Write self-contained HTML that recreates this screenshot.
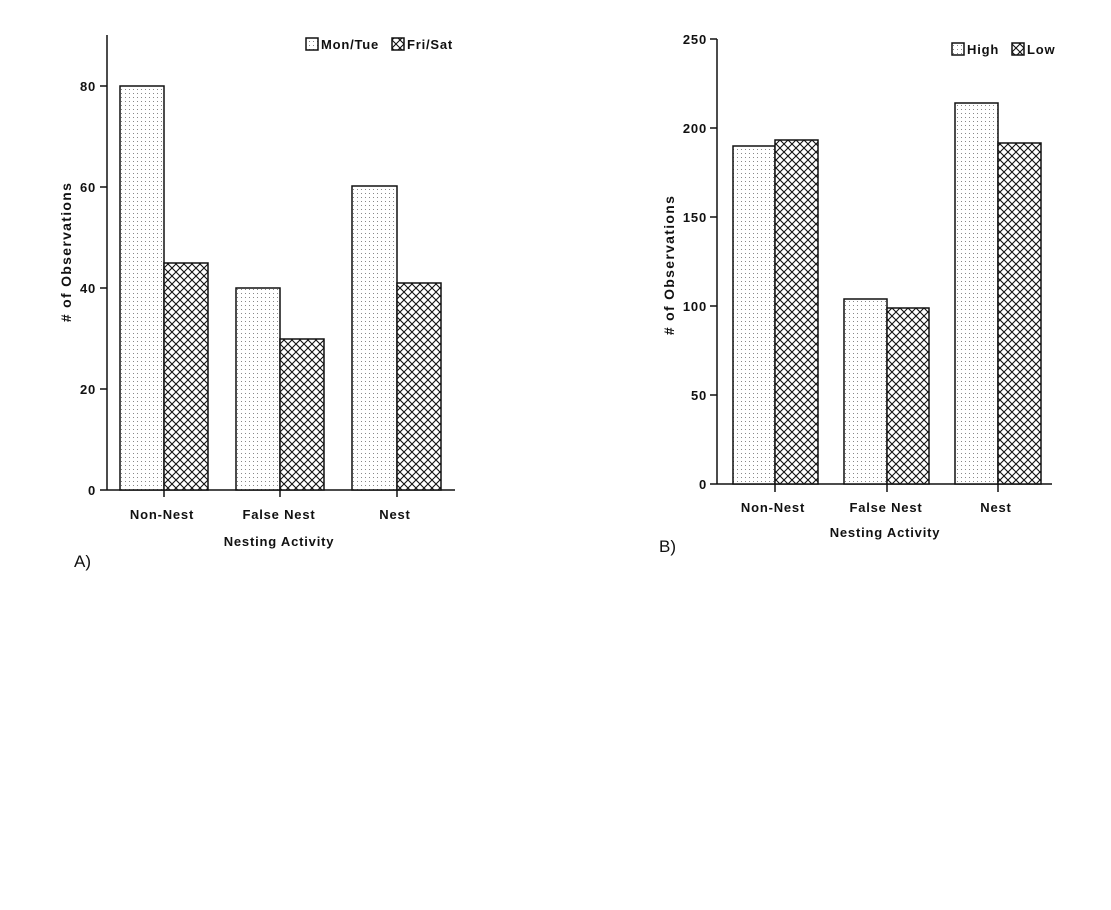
<!DOCTYPE html>
<html><head><meta charset="utf-8"><style>
html,body{margin:0;padding:0;background:#fff;}
svg{display:block;}
text{font-family:"Liberation Sans",Arial,sans-serif;fill:#111;}
.b{font-weight:bold;font-size:13px;letter-spacing:0.8px;}
.t{font-weight:bold;font-size:14px;letter-spacing:1.3px;}
</style></head><body>
<svg width="1111" height="910" viewBox="0 0 1111 910" xmlns="http://www.w3.org/2000/svg">
<defs>
<pattern id="dots" width="4" height="4" patternUnits="userSpaceOnUse">
<rect width="4" height="4" fill="#fff"/><rect x="1" y="1" width="1" height="1" fill="#888"/>
</pattern>
<pattern id="hatch" width="8" height="8" patternUnits="userSpaceOnUse">
<rect width="8" height="8" fill="#fff"/>
<path d="M0,0 L8,8 M8,0 L0,8 M-1,7 L1,9 M7,-1 L9,1 M-1,1 L1,-1 M7,9 L9,7" stroke="#111" stroke-width="1.1"/>
</pattern>
</defs>
<g stroke="#111" stroke-width="1.5" fill="none">
<line x1="107" y1="35" x2="107" y2="490"/>
<line x1="107" y1="490" x2="455" y2="490"/>
<line x1="100" y1="490" x2="107" y2="490"/>
<line x1="100" y1="389" x2="107" y2="389"/>
<line x1="100" y1="288" x2="107" y2="288"/>
<line x1="100" y1="187" x2="107" y2="187"/>
<line x1="100" y1="86" x2="107" y2="86"/>
<line x1="164" y1="490" x2="164" y2="497"/>
<line x1="280" y1="490" x2="280" y2="497"/>
<line x1="397" y1="490" x2="397" y2="497"/>
<line x1="717" y1="39" x2="717" y2="484"/>
<line x1="717" y1="484" x2="1052" y2="484"/>
<line x1="710" y1="484" x2="717" y2="484"/>
<line x1="710" y1="395" x2="717" y2="395"/>
<line x1="710" y1="306" x2="717" y2="306"/>
<line x1="710" y1="217" x2="717" y2="217"/>
<line x1="710" y1="128" x2="717" y2="128"/>
<line x1="710" y1="39" x2="717" y2="39"/>
<line x1="775" y1="484" x2="775" y2="492"/>
<line x1="887" y1="484" x2="887" y2="492"/>
<line x1="998" y1="484" x2="998" y2="492"/>
</g>
<g stroke="#111" stroke-width="1.5">
<rect x="120" y="86" width="44" height="404" fill="url(#dots)"/>
<rect x="164" y="263" width="44" height="227" fill="url(#hatch)"/>
<rect x="236" y="288" width="44" height="202" fill="url(#dots)"/>
<rect x="280" y="339" width="44" height="151" fill="url(#hatch)"/>
<rect x="352" y="186" width="45" height="304" fill="url(#dots)"/>
<rect x="397" y="283" width="44" height="207" fill="url(#hatch)"/>
<rect x="733" y="146" width="42" height="338" fill="url(#dots)"/>
<rect x="775" y="140" width="43" height="344" fill="url(#hatch)"/>
<rect x="844" y="299" width="43" height="185" fill="url(#dots)"/>
<rect x="887" y="308" width="42" height="176" fill="url(#hatch)"/>
<rect x="955" y="103" width="43" height="381" fill="url(#dots)"/>
<rect x="998" y="143" width="43" height="341" fill="url(#hatch)"/>
<rect x="306" y="38" width="12" height="12" fill="url(#dots)"/>
<rect x="392" y="38" width="12" height="12" fill="url(#hatch)"/>
<rect x="952" y="43" width="12" height="12" fill="url(#dots)"/>
<rect x="1012" y="43" width="12" height="12" fill="url(#hatch)"/>
</g>
<text x="321" y="49" class="b">Mon/Tue</text>
<text x="407" y="49" class="b">Fri/Sat</text>
<text x="967" y="54" class="b">High</text>
<text x="1027" y="54" class="b">Low</text>
<g text-anchor="end">
<text x="96" y="495" class="b">0</text>
<text x="96" y="394" class="b">20</text>
<text x="96" y="293" class="b">40</text>
<text x="96" y="192" class="b">60</text>
<text x="96" y="91" class="b">80</text>
<text x="707" y="489" class="b">0</text>
<text x="707" y="400" class="b">50</text>
<text x="707" y="311" class="b">100</text>
<text x="707" y="222" class="b">150</text>
<text x="707" y="133" class="b">200</text>
<text x="707" y="44" class="b">250</text>
</g>
<g text-anchor="middle">
<text x="162" y="519" class="b">Non-Nest</text>
<text x="279" y="519" class="b">False Nest</text>
<text x="395" y="519" class="b">Nest</text>
<text x="279" y="546" class="b">Nesting Activity</text>
<text x="773" y="512" class="b">Non-Nest</text>
<text x="886" y="512" class="b">False Nest</text>
<text x="996" y="512" class="b">Nest</text>
<text x="885" y="537" class="b">Nesting Activity</text>
<text transform="translate(71,252) rotate(-90)" class="t">&#35; of Observations</text>
<text transform="translate(674,265) rotate(-90)" class="t">&#35; of Observations</text>
</g>
<text x="74" y="567" style="font-size:17px">A)</text>
<text x="659" y="552" style="font-size:17px">B)</text>
</svg>
</body></html>
